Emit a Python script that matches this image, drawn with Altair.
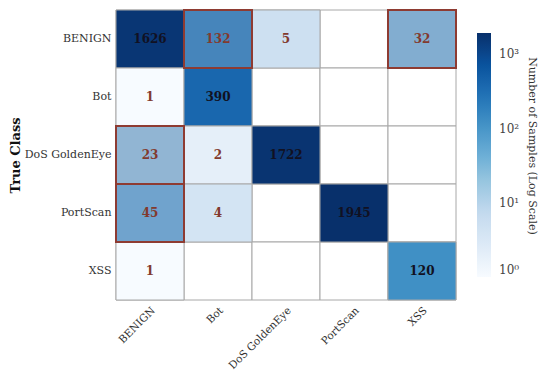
import altair as alt
import pandas as pd
import numpy as np

classes = ["BENIGN", "Bot", "DoS GoldenEye", "PortScan", "XSS"]

true_cls = ["BENIGN", "BENIGN", "BENIGN", "BENIGN",
            "Bot", "Bot",
            "DoS GoldenEye", "DoS GoldenEye", "DoS GoldenEye",
            "PortScan", "PortScan", "PortScan",
            "XSS", "XSS"]
pred_cls = ["BENIGN", "Bot", "DoS GoldenEye", "XSS",
            "BENIGN", "Bot",
            "BENIGN", "Bot", "DoS GoldenEye",
            "BENIGN", "Bot", "PortScan",
            "BENIGN", "XSS"]
counts = [1626, 132, 5, 32,
          1, 390,
          23, 2, 1722,
          45, 4, 1945,
          1, 120]

hl_true = ["BENIGN", "BENIGN", "DoS GoldenEye", "PortScan"]
hl_pred = ["Bot", "XSS", "BENIGN", "BENIGN"]

blues = ["#f7fbff", "#deebf7", "#c6dbef", "#9ecae1", "#6baed6",
         "#4292c6", "#2171b5", "#08519c", "#08306b"]
vmax = max(counts)
dom = [float(v) for v in np.logspace(0, np.log10(vmax), len(blues))]

df = pd.DataFrame({"true": true_cls, "pred": pred_cls, "count": counts})
df["diag"] = df["true"] == df["pred"]
grid = pd.DataFrame([(t, p) for t in classes for p in classes], columns=["true", "pred"])
hl = pd.DataFrame({"true": hl_true, "pred": hl_pred})

FONT = "DejaVu Serif"
xenc = alt.X("pred:N", sort=classes,
             axis=alt.Axis(title=None, labelAngle=-45, labelAlign="right", labelBaseline="top",
                           ticks=False, domain=False, labelPadding=5, labelFont=FONT,
                           labelFontSize=10.5, labelColor="#333"))
yenc = alt.Y("true:N", sort=classes,
             axis=alt.Axis(title="True Class", ticks=False, domain=False, labelPadding=5,
                           labelFont=FONT, labelFontSize=11, labelColor="#333",
                           titleFont=FONT, titleFontSize=13, titleFontWeight="bold",
                           titleColor="#111", titlePadding=2))

base_grid = alt.Chart(grid).mark_rect(fill="white", stroke="#a8a8a8", strokeWidth=1).encode(
    x=xenc, y=yenc)

heat = alt.Chart(df).mark_rect(stroke="#a8a8a8", strokeWidth=1).encode(
    x=alt.X("pred:N", sort=classes),
    y=alt.Y("true:N", sort=classes),
    color=alt.Color("count:Q",
                    scale=alt.Scale(type="log", domain=dom, range=blues),
                    legend=alt.Legend(title=None, orient="none", legendX=361, legendY=23,
                                      gradientLength=244, gradientThickness=14,
                                      values=[1, 10, 100, 1000],
                                      labelExpr="'10' + ['⁰','¹','²','³'][round(log(datum.value)/LN10)]",
                                      labelFont=FONT, labelFontSize=12, labelColor="#444",
                                      labelOffset=8, gradientStrokeWidth=0)))

hbox = alt.Chart(hl).mark_rect(fill="#c03060", fillOpacity=0.08, stroke="#8e3b32",
                               strokeWidth=2).encode(
    x=alt.X("pred:N", sort=classes),
    y=alt.Y("true:N", sort=classes))

txt = alt.Chart(df).mark_text(font=FONT, fontSize=12, fontWeight="bold").encode(
    x=alt.X("pred:N", sort=classes),
    y=alt.Y("true:N", sort=classes),
    text=alt.Text("count:Q"),
    color=alt.condition("datum.diag", alt.value("#111122"), alt.value("#823a2e")))

cbar_title = alt.Chart(pd.DataFrame({"t": ["Number of Samples (Log Scale)"]})).mark_text(
    angle=90, font=FONT, fontSize=11, color="#333").encode(
    x=alt.value(416), y=alt.value(136), text="t:N")

chart = alt.layer(base_grid, heat, hbox, txt, cbar_title).properties(
    width=340, height=290,
    autosize=alt.AutoSizeParams(type="none"),
    padding={"left": 108, "top": 2, "right": 86, "bottom": 71},
).configure_view(stroke=None).configure_scale(bandPaddingInner=0, bandPaddingOuter=0)

chart.save("out.html", embed_options={"renderer": "svg", "actions": False})
